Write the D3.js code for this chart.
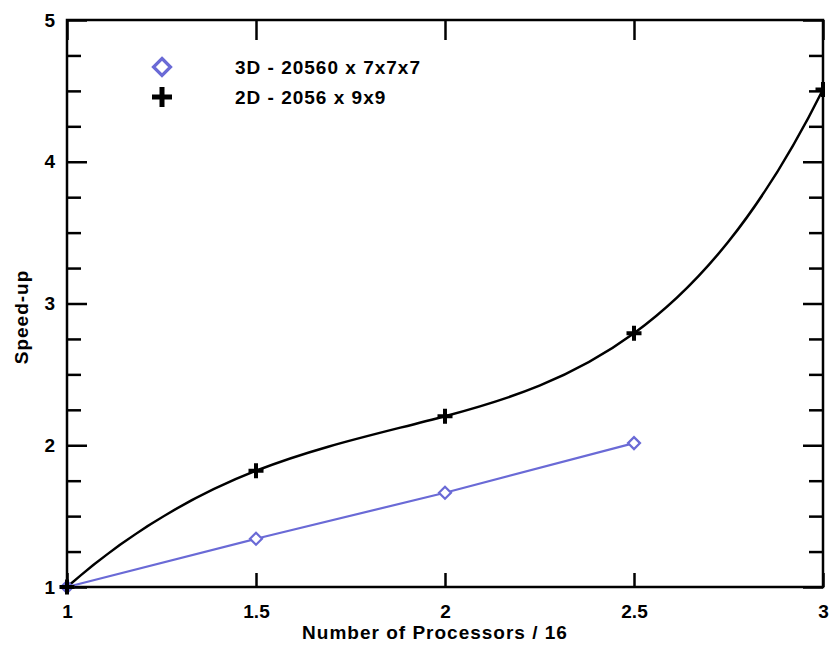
<!DOCTYPE html>
<html>
<head>
<meta charset="utf-8">
<script src="https://cdn.jsdelivr.net/npm/d3@7"></script>
<style>
  html, body { margin: 0; padding: 0; background: #fff; }
  svg { display: block; }
  text { font-family: "Liberation Sans", Arial, sans-serif; font-weight: bold; fill: #000; }
</style>
</head>
<body>
<svg id="chart" width="830" height="646"></svg>
<script>
// ---- data ----
const xProcs3D = [1, 1.5, 2, 2.5];
const speedup3D = [1, 1.34, 1.665, 2.015];
const xProcs2D = [1, 1.5, 2, 2.5, 3];
const speedup2D = [1, 1.82, 2.205, 2.79, 4.51];
const seriesNames = ["3D - 20560 x 7x7x7", "2D - 2056 x 9x9"];
const xTicks = [1, 1.5, 2, 2.5, 3];
const yMajorTicks = [1, 2, 3, 4, 5];
const yMinorTicks = [1.25, 1.5, 1.75, 2.25, 2.5, 2.75, 3.25, 3.5, 3.75, 4.25, 4.5, 4.75];
const xTitle = "Number of Processors / 16";
const yTitle = "Speed-up";

const W = 830, H = 646;
const m = { left: 67, top: 20, right: 7, bottom: 59 };
const iw = W - m.left - m.right, ih = H - m.top - m.bottom;
const blue = "#6a6ad6";

// Smooth curve for d3.line: a single interpolating polynomial through the
// buffered points, drawn as one cubic Bezier per interval (Hermite form).
function curvePolySmooth(context) {
  let xs, ys;
  return {
    areaStart() {}, areaEnd() {},
    lineStart() { xs = []; ys = []; },
    point(px, py) { xs.push(+px); ys.push(+py); },
    lineEnd() {
      const n = xs.length;
      if (!n) return;
      const lag = t => {
        let s = 0;
        for (let i = 0; i < n; i++) {
          let l = 1;
          for (let j = 0; j < n; j++) if (j !== i) l *= (t - xs[j]) / (xs[i] - xs[j]);
          s += ys[i] * l;
        }
        return s;
      };
      const der = t => (lag(t + 0.01) - lag(t - 0.01)) / 0.02;
      context.moveTo(xs[0], ys[0]);
      for (let i = 0; i < n - 1; i++) {
        const h = xs[i + 1] - xs[i];
        const d0 = der(xs[i]), d1 = der(xs[i + 1]);
        context.bezierCurveTo(xs[i] + h / 3, ys[i] + d0 * h / 3,
                              xs[i + 1] - h / 3, ys[i + 1] - d1 * h / 3,
                              xs[i + 1], ys[i + 1]);
      }
    }
  };
}

const svg = d3.select("#chart");
const g = svg.append("g").attr("transform", `translate(${m.left},${m.top})`);

const x = d3.scaleLinear().domain([1, 3]).range([0, iw]);
const y = d3.scaleLinear().domain([1, 5]).range([ih, 0]);

function styleAxis(sel) {
  sel.select(".domain").remove();
  sel.selectAll(".tick line").attr("stroke", "#000").attr("stroke-width", 2.5);
  sel.selectAll(".tick text").style("font-size", "19px").style("font-weight", "bold").attr("fill", "#000");
}

// left major with labels
g.append("g").call(d3.axisLeft(y).tickValues(yMajorTicks).tickSize(-20).tickPadding(12).tickFormat(d3.format("d"))).call(styleAxis);
g.append("g").call(d3.axisLeft(y).tickValues(yMinorTicks).tickSize(-14).tickFormat("")).call(styleAxis);
// right
g.append("g").attr("transform", `translate(${iw},0)`).call(d3.axisRight(y).tickValues(yMajorTicks).tickSize(-20).tickFormat("")).call(styleAxis);
g.append("g").attr("transform", `translate(${iw},0)`).call(d3.axisRight(y).tickValues(yMinorTicks).tickSize(-14).tickFormat("")).call(styleAxis);
// bottom
g.append("g").attr("transform", `translate(0,${ih})`).call(d3.axisBottom(x).tickValues(xTicks).tickSize(-14).tickPadding(18).tickFormat(d => String(d))).call(styleAxis);
// top
g.append("g").call(d3.axisTop(x).tickValues(xTicks).tickSize(-20).tickFormat("")).call(styleAxis);

// frame
g.append("rect").attr("x", 0).attr("y", 0).attr("width", iw).attr("height", ih)
  .attr("fill", "none").attr("stroke", "#000").attr("stroke-width", 2.5);

// clip
svg.append("clipPath").attr("id", "clipM").append("rect")
  .attr("x", -20).attr("y", -20).attr("width", iw + 22).attr("height", ih + 40);

// lines
const pts3D = xProcs3D.map((v, i) => [v, speedup3D[i]]);
const pts2D = xProcs2D.map((v, i) => [v, speedup2D[i]]);

g.append("path").datum(pts3D)
  .attr("d", d3.line().x(d => x(d[0])).y(d => y(d[1])).curve(d3.curveLinear))
  .attr("fill", "none").attr("stroke", blue).attr("stroke-width", 2.2);

g.append("path").datum(pts2D)
  .attr("d", d3.line().x(d => x(d[0])).y(d => y(d[1])).curve(curvePolySmooth))
  .attr("fill", "none").attr("stroke", "#000").attr("stroke-width", 2.5);

// markers
function diamond(sel, r, sw) {
  sel.append("path").attr("d", `M0,${-r}L${r},0L0,${r}L${-r},0Z`)
    .attr("fill", "#fff").attr("stroke", blue).attr("stroke-width", sw);
}
function plus(sel, r, sw) {
  sel.append("path").attr("d", `M${-r},0H${r}M0,${-r}V${r}`)
    .attr("fill", "none").attr("stroke", "#000").attr("stroke-width", sw);
}
const mk = g.append("g").attr("clip-path", "url(#clipM)");
pts3D.forEach(p => {
  const s = mk.append("g").attr("transform", `translate(${x(p[0])},${y(p[1])})`);
  diamond(s, 6, 2.2);
});
pts2D.forEach(p => {
  const s = mk.append("g").attr("transform", `translate(${x(p[0])},${y(p[1])})`);
  plus(s, 7.5, 4);
});

// legend
const lg = svg.append("g");
const l1 = lg.append("g").attr("transform", "translate(162,67)");
diamond(l1, 8.5, 3.2);
const l2 = lg.append("g").attr("transform", "translate(162,97)");
plus(l2, 10, 5);
lg.append("text").attr("x", 235).attr("y", 73.5).style("font-size", "19px").style("letter-spacing", "1px").text(seriesNames[0]);
lg.append("text").attr("x", 235).attr("y", 103.5).style("font-size", "19px").style("letter-spacing", "1px").text(seriesNames[1]);

// axis titles
svg.append("text").attr("x", 435).attr("y", 639).attr("text-anchor", "middle")
  .style("font-size", "19px").style("letter-spacing", "1px").text(xTitle);
svg.append("text").attr("transform", "translate(28,317) rotate(-90)").attr("text-anchor", "middle")
  .style("font-size", "19px").style("letter-spacing", "1px").text(yTitle);
</script>
</body>
</html>
